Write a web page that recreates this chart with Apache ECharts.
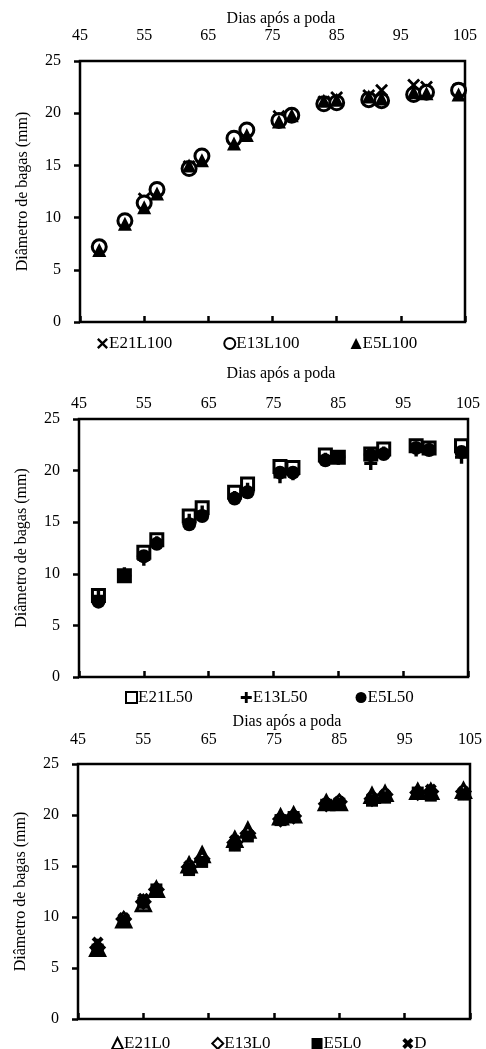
<!DOCTYPE html>
<html>
<head>
<meta charset="utf-8">
<script src="https://cdn.jsdelivr.net/npm/echarts@6/dist/echarts.min.js"></script>
<style>
  html, body { margin: 0; padding: 0; background: #fff; }
  #chart { width: 486px; height: 1049px; }
</style>
</head>
<body>
<div id="chart"></div>
<script>
// dias após a poda (same sampling dates for every treatment)
const days = [48, 52, 55, 57, 62, 64, 69, 71, 76, 78, 83, 85, 90, 92, 97, 99, 104];

// painel 1 - L100
const E21L100 = [7.2, 9.7, 11.8, 12.6, 14.9, 15.8, 17.5, 18.3, 19.7, 19.8, 21.1, 21.5, 21.7, 22.2, 22.7, 22.5, 22.3];
const E13L100 = [7.2, 9.7, 11.4, 12.7, 14.7, 15.9, 17.6, 18.4, 19.3, 19.8, 20.9, 21.0, 21.3, 21.2, 21.8, 22.0, 22.2];
const E5L100  = [6.9, 9.4, 11.0, 12.3, 15.0, 15.5, 17.1, 17.9, 19.2, 19.8, 21.2, 21.3, 21.6, 21.4, 22.0, 21.9, 21.8];

// painel 2 - L50
const E21L50 = [7.9, 9.8, 12.1, 13.3, 15.6, 16.4, 17.9, 18.7, 20.4, 20.3, 21.5, 21.3, 21.6, 22.1, 22.4, 22.2, 22.4];
const E13L50 = [7.8, 10.0, 11.4, 13.0, 15.2, 16.0, 17.4, 18.2, 19.4, 19.7, 21.1, 21.2, 20.7, 21.7, 22.0, 22.1, 21.3];
const E5L50  = [7.3, 9.8, 11.7, 12.9, 14.8, 15.6, 17.3, 17.9, 19.8, 19.8, 21.0, 21.3, 21.5, 21.6, 22.2, 22.0, 21.8];

// painel 3 - L0 e D
const E21L0 = [6.9, 9.7, 11.3, 12.7, 15.1, 16.1, 17.6, 18.5, 19.8, 20.0, 21.2, 21.2, 21.9, 22.1, 22.3, 22.3, 22.4];
const E13L0 = [7.0, 9.8, 11.5, 12.7, 14.9, 15.7, 17.3, 18.2, 19.6, 19.9, 21.1, 21.3, 21.6, 22.0, 22.2, 22.3, 22.3];
const E5L0  = [6.8, 9.6, 11.4, 12.7, 14.6, 15.4, 17.0, 17.9, 19.5, 19.8, 21.0, 21.1, 21.4, 21.7, 22.2, 21.9, 22.0];
const D     = [7.5, 9.9, 11.8, 12.6, 15.0, 15.5, 17.5, 18.1, 19.6, 19.8, 21.1, 21.3, 21.7, 22.0, 22.1, 22.5, 22.3];

const xMin = 45, xMax = 105, xStep = 10;
const yMin = 0, yMax = 25, yStep = 5;

const font = '"Liberation Serif", "Times New Roman", serif';
const fs = 16;

const thinX = 'path://M0,1.5 L1.5,0 L5,3.5 L8.5,0 L10,1.5 L6.5,5 L10,8.5 L8.5,10 L5,6.5 L1.5,10 L0,8.5 L3.5,5 Z';
const boldX = 'path://M0,2.4 L2.4,0 L5,2.6 L7.6,0 L10,2.4 L7.4,5 L10,7.6 L7.6,10 L5,7.4 L2.4,10 L0,7.6 L2.6,5 Z';
const plus  = 'path://M3.7,0 H6.3 V3.7 H10 V6.3 H6.3 V10 H3.7 V6.3 H0 V3.7 H3.7 Z';

const filled = { color: '#000', borderWidth: 0, opacity: 1 };
const hollow = { color: '#fff', borderColor: '#000', borderWidth: 3, opacity: 1 };

const panels = [
  {
    grid: { left: 80, right: 21, top: 61, height: 261 },
    nameGap: 33, labelMargin: 17, namePad: 17,
    legend: { left: 97, top: 335, itemGap: 51 },
    series: [
      ['E21L100', E21L100, thinX, filled, 13],
      ['E13L100', E13L100, 'circle', hollow, 14],
      ['E5L100', E5L100, 'triangle', filled, 14]
    ]
  },
  {
    grid: { left: 79, right: 18, top: 419, height: 258 },
    nameGap: 37, labelMargin: 7, namePad: 15,
    legend: { left: 125, top: 689, itemGap: 48 },
    series: [
      ['E21L50', E21L50, 'rect', hollow, 12],
      ['E13L50', E13L50, plus, filled, 13],
      ['E5L50', E5L50, 'circle', filled, 14]
    ]
  },
  {
    grid: { left: 78, right: 16, top: 764, height: 255 },
    nameGap: 34, labelMargin: 16, namePad: 26,
    legend: { left: 111, top: 1035, itemGap: 41 },
    series: [
      ['E21L0', E21L0, 'triangle', hollow, 14],
      ['E13L0', E13L0, 'diamond', hollow, 13],
      ['E5L0', E5L0, 'rect', filled, 12],
      ['D', D, boldX, filled, 12]
    ]
  }
];

const grid = [], xAxis = [], yAxis = [], series = [], legend = [];

panels.forEach(function (p, i) {
  grid.push(Object.assign({
    show: true, borderColor: '#000', borderWidth: 2.5, backgroundColor: '#fff'
  }, p.grid));

  // eixo superior com rótulos
  xAxis.push({
    gridIndex: i, type: 'value', position: 'top',
    min: xMin, max: xMax, interval: xStep,
    name: 'Dias após a poda', nameLocation: 'middle', nameGap: p.nameGap,
    nameTextStyle: { fontFamily: font, fontSize: fs, color: '#000', padding: [0, 0, 0, p.namePad] },
    axisLine: { show: false }, axisTick: { show: false }, splitLine: { show: false },
    axisLabel: { fontFamily: font, fontSize: fs, color: '#000', margin: p.labelMargin }
  });
  // eixo inferior só com marcas para dentro
  xAxis.push({
    gridIndex: i, type: 'value', position: 'bottom',
    min: xMin, max: xMax, interval: xStep,
    axisLine: { show: false }, splitLine: { show: false },
    axisTick: { show: true, inside: true, length: 6, lineStyle: { color: '#000', width: 2.5 } },
    axisLabel: { show: false }
  });
  yAxis.push({
    gridIndex: i, type: 'value', min: yMin, max: yMax, interval: yStep,
    name: 'Diâmetro de bagas (mm)', nameLocation: 'middle', nameGap: 49,
    nameTextStyle: { fontFamily: font, fontSize: fs, color: '#000' },
    axisLine: { show: false }, splitLine: { show: false },
    axisTick: { show: true, length: 6, lineStyle: { color: '#000', width: 2.5 } },
    axisLabel: { fontFamily: font, fontSize: fs, color: '#000', margin: 19 }
  });

  p.series.forEach(function (s) {
    series.push({
      name: s[0], type: 'scatter', xAxisIndex: 2 * i, yAxisIndex: i,
      symbol: s[2], symbolSize: s[4], itemStyle: s[3],
      emphasis: { disabled: true },
      data: days.map(function (d, k) { return [d, s[1][k]]; })
    });
  });

  legend.push({
    data: p.series.map(function (s) { return s[0]; }),
    left: p.legend.left, top: p.legend.top, itemGap: p.legend.itemGap,
    itemWidth: 11, itemHeight: 11, padding: 0, selectedMode: false,
    textStyle: { fontFamily: font, fontSize: 17, color: '#000', padding: [0, 0, 0, -4] }
  });
});

const chart = echarts.init(document.getElementById('chart'));
chart.setOption({
  animation: false,
  backgroundColor: '#fff',
  grid: grid,
  xAxis: xAxis,
  yAxis: yAxis,
  legend: legend,
  series: series
});
</script>
</body>
</html>
